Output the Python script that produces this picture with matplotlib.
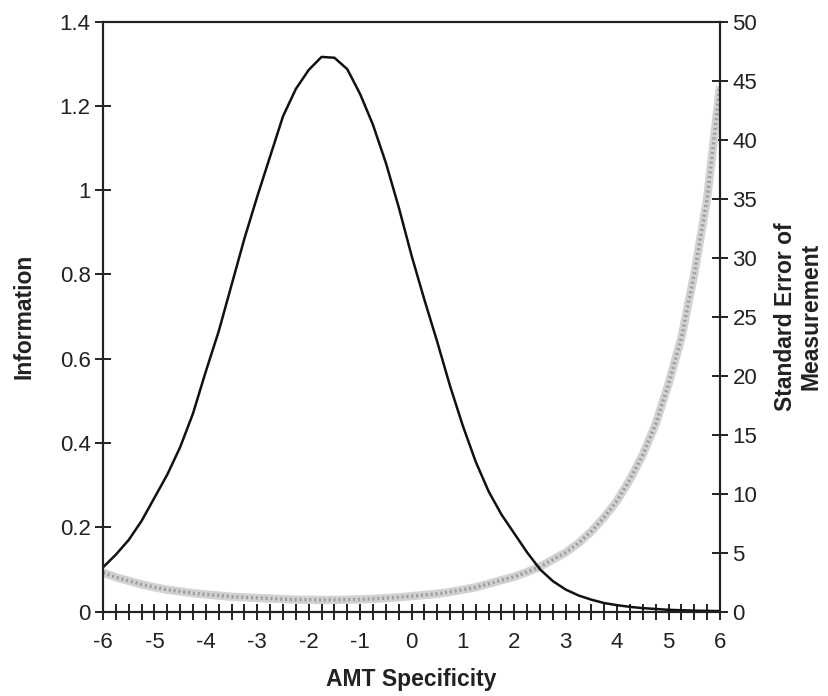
import numpy as np
import matplotlib
matplotlib.use('Agg')
import matplotlib.pyplot as plt
from matplotlib.ticker import MultipleLocator, FuncFormatter

plt.rcParams['font.family'] = ['Liberation Sans', 'DejaVu Sans']
plt.rcParams['axes.unicode_minus'] = False

# ability scale (AMT Specificity), read every 0.25
theta = [-6.00, -5.75, -5.50, -5.25, -5.00, -4.75, -4.50, -4.25, -4.00, -3.75,
         -3.50, -3.25, -3.00, -2.75, -2.50, -2.25, -2.00, -1.75, -1.50, -1.25,
         -1.00, -0.75, -0.50, -0.25, 0.00, 0.25, 0.50, 0.75, 1.00, 1.25,
         1.50, 1.75, 2.00, 2.25, 2.50, 2.75, 3.00, 3.25, 3.50, 3.75,
         4.00, 4.25, 4.50, 4.75, 5.00, 5.25, 5.50, 5.75, 6.00]

# test information (left axis)
info = [0.105, 0.135, 0.170, 0.215, 0.270, 0.325, 0.390, 0.470, 0.570, 0.665,
        0.775, 0.885, 0.985, 1.080, 1.175, 1.240, 1.285, 1.316, 1.314, 1.287,
        1.228, 1.155, 1.065, 0.960, 0.845, 0.740, 0.640, 0.535, 0.440, 0.355,
        0.285, 0.230, 0.185, 0.140, 0.100, 0.072, 0.052, 0.038, 0.028, 0.020,
        0.015, 0.011, 0.008, 0.006, 0.004, 0.003, 0.002, 0.0015, 0.001]

# standard error of measurement (right axis)
sem = [3.3, 2.9, 2.6, 2.3, 2.05, 1.85, 1.7, 1.55, 1.45, 1.35,
       1.25, 1.2, 1.15, 1.1, 1.05, 1.0, 1.0, 0.98, 0.98, 1.0,
       1.03, 1.07, 1.13, 1.2, 1.3, 1.4, 1.5, 1.65, 1.85, 2.05,
       2.35, 2.65, 2.95, 3.35, 3.8, 4.4, 5.0, 5.8, 6.8, 8.0,
       9.4, 11.2, 13.3, 15.9, 19.3, 23.2, 28.6, 35.0, 44.5]

fig = plt.figure(figsize=(8.29, 6.96), dpi=100)
ax = fig.add_axes([0.1243, 0.1214, 0.7442, 0.8477])
ax2 = ax.twinx()

# stippled gray band for SEM, under the information curve
ax2.plot(theta, sem, color='#d2d2d2', lw=6, solid_capstyle='butt')
ax2.plot(theta, sem, color='#9e9e9e', lw=2.5, ls=(0, (0.6, 0.8)))
ax2.set_ylim(0, 50)
ax2.yaxis.set_major_locator(MultipleLocator(5))

ax.set_zorder(ax2.get_zorder() + 1)
ax.patch.set_visible(False)
ax.plot(theta, info, color='#111111', lw=1.8, solid_joinstyle='round')
ax.set_xlim(-6, 6)
ax.set_ylim(0, 1.4)
ax.xaxis.set_major_locator(MultipleLocator(1))
ax.xaxis.set_minor_locator(MultipleLocator(0.25))
ax.yaxis.set_major_locator(MultipleLocator(0.2))
ax.yaxis.set_major_formatter(FuncFormatter(lambda v, p: '%g' % round(v, 1)))

for a in (ax, ax2):
    for s in a.spines.values():
        s.set_linewidth(1.5)
        s.set_color('#222222')

tick_kw = dict(direction='inout', length=12, width=1.4, labelsize=16,
               colors='#222222')
ax.tick_params(axis='x', which='both', pad=9, **tick_kw)
ax.tick_params(axis='y', pad=3, **tick_kw)
ax2.tick_params(axis='y', pad=3, **tick_kw)

ax.set_xlabel('AMT Specificity', fontsize=16.5, fontweight='bold', color='#222222')
ax.xaxis.set_label_coords(0.5, -0.095)
ax.set_ylabel('Information', fontsize=16.5, fontweight='bold', color='#222222')
ax.yaxis.set_label_coords(-0.11, 0.5)
ax2.set_ylabel('Standard Error of\nMeasurement', fontsize=16.5, fontweight='bold',
               linespacing=1.15, color='#222222')
ax2.yaxis.set_label_coords(1.088, 0.5)

fig.savefig('out.png', dpi=100)
